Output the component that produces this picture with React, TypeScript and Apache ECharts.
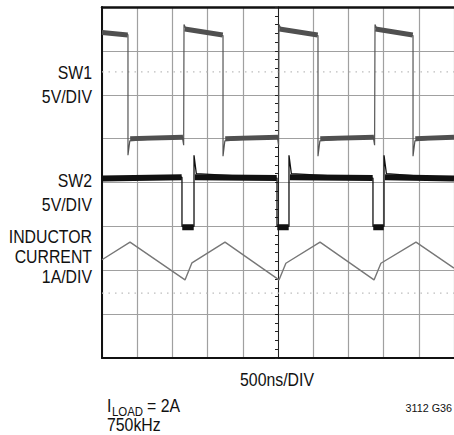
import React, { useEffect, useRef } from "react";
import * as echarts from "echarts";

// time in ns (0..5000, 500ns/div), amplitude in divisions (0..8)
const sw1Trace: [number, number][] = [
  [0, 7.45], [369, 7.37], [369, 4.62], [395, 4.95], [1140, 5.05], [1160, 4.85], [1165, 7.6], [1200, 7.47],
  [1719, 7.35], [1719, 4.6], [1745, 4.95], [2490, 5.05], [2508, 4.85], [2514, 7.6], [2550, 7.47],
  [3068, 7.35], [3068, 4.6], [3095, 4.95], [3852, 5.05], [3872, 4.85], [3878, 7.6], [3910, 7.47],
  [4418, 7.35], [4418, 4.6], [4445, 4.95], [5000, 5.05],
];
const sw1Band: ([number, number] | null)[] = [
  [0, 7.42], [365, 7.36], null,
  [1175, 7.5], [1715, 7.36], null,
  [2520, 7.5], [3064, 7.36], null,
  [3884, 7.5], [4414, 7.36], null,
  [400, 5.0], [1150, 5.03], null,
  [1750, 5.0], [2500, 5.03], null,
  [3100, 5.0], [3862, 5.03], null,
  [4450, 5.0], [5000, 5.03],
];
const sw2Trace: [number, number][] = [
  [0, 4.09], [1136, 4.12], [1136, 3.0], [1307, 3.0], [1307, 4.62], [1340, 4.2], [2486, 4.1],
  [2486, 3.0], [2656, 3.0], [2656, 4.62], [2690, 4.2], [3849, 4.1], [3849, 3.0], [4006, 3.0],
  [4006, 4.62], [4040, 4.2], [5000, 4.09],
];
const sw2Band: ([number, number] | null)[] = [
  [0, 4.09], [1132, 4.12], null,
  [1320, 4.12], [2482, 4.1], null,
  [2670, 4.12], [3845, 4.1], null,
  [4020, 4.12], [5000, 4.09], null,
  [1140, 2.98], [1303, 2.98], null,
  [2490, 2.98], [2652, 2.98], null,
  [3853, 2.98], [4002, 2.98],
];
const inductorCurrent: [number, number][] = [
  [0, 2.24], [398, 2.64], [1179, 1.78], [1278, 2.17], [1747, 2.64], [2514, 1.78], [2612, 2.16],
  [3097, 2.64], [3864, 1.78], [3962, 2.16], [4460, 2.64], [5000, 2.05],
];
const dottedLevels = [6.52, 1.48];
const traceLabels = [
  { lines: ["SW1", "5V/DIV"], y: 73 },
  { lines: ["SW2", "5V/DIV"], y: 181 },
  { lines: ["INDUCTOR", "CURRENT", "1A/DIV"], y: 237 },
];
const timeLabel = "500ns/DIV";
const freqLabel = "750kHz";
const figId = "3112 G36";

const FONT = "'Liberation Sans', Arial, sans-serif";
const SX = 0.88;

export default function App() {
  const ref = useRef<HTMLDivElement>(null);
  useEffect(() => {
    if (!ref.current) return;
    const chart = echarts.init(ref.current, null, { renderer: "svg" });
    const graphic: any[] = [];
    const txt = (text: string, x: number, y: number, size: number, align: string, sx = SX) => ({
      type: "text", x, y, scaleX: sx,
      style: { text, textAlign: align, textVerticalAlign: "middle", fontSize: size, fontFamily: FONT, fill: "#111" },
    });
    traceLabels.forEach((t) => {
      t.lines.forEach((line, i) => {
        graphic.push(txt(line, 92, t.y + i * (t.lines.length === 3 ? 20 : 24.5), 18, "right"));
      });
    });
    graphic.push(txt(timeLabel, 277, 380, 18, "center"));
    graphic.push(txt("I", 107, 406, 18, "left"));
    graphic.push(txt("LOAD", 112, 411.5, 13, "left"));
    graphic.push(txt("= 2A", 147, 406, 18, "left"));
    graphic.push(txt(freqLabel, 107, 425, 18, "left"));
    graphic.push(txt(figId, 452, 408, 11, "right", 0.98));

    const hidden = { show: false };
    chart.setOption({
      animation: false,
      grid: { left: 102, right: 0, top: 7, bottom: 77 },
      xAxis: [
        {
          type: "value", min: 0, max: 5000, interval: 500, position: "bottom",
          axisLine: { show: true, onZero: false, lineStyle: { color: "#111", width: 2 } },
          axisTick: hidden, axisLabel: hidden,
          splitLine: { show: true, lineStyle: { color: "#a0a0a0", width: 1.2 } },
        },
        {
          type: "value", min: 0, max: 5000, interval: 500, position: "top",
          axisLine: { show: true, onZero: false, lineStyle: { color: "#111", width: 2.5 } },
          axisTick: hidden, axisLabel: hidden, splitLine: hidden,
        },
      ],
      yAxis: [
        {
          type: "value", min: 0, max: 8, interval: 1, position: "left",
          axisLine: { show: true, onZero: false, lineStyle: { color: "#111", width: 2 } },
          axisTick: hidden, axisLabel: hidden,
          splitLine: { show: true, lineStyle: { color: "#a0a0a0", width: 1.2 } },
        },
        {
          type: "value", min: 0, max: 8, interval: 1, position: "left", offset: -176,
          axisLine: { show: true, onZero: false, lineStyle: { color: "#222", width: 1 } },
          axisTick: { show: true, length: 3, lineStyle: { color: "#222" } },
          minorTick: { show: true, splitNumber: 5, length: 3, lineStyle: { color: "#222" } },
          axisLabel: hidden, splitLine: hidden,
        },
      ],
      series: [
        ...dottedLevels.map((lv) => ({
          type: "line", xAxisIndex: 0, yAxisIndex: 0, symbol: "none", silent: true,
          data: [[0, lv], [5000, lv]],
          lineStyle: { color: "#bdbdbd", width: 1.2, type: [1.5, 5] },
        })),
        {
          type: "line", name: "SW1", symbol: "none", data: sw1Trace, connectNulls: false,
          lineStyle: { color: "#555", width: 1.2 },
        },
        {
          type: "line", name: "SW1 band", symbol: "none", data: sw1Band, connectNulls: false,
          lineStyle: { color: "#505050", width: 5 },
        },
        {
          type: "line", name: "SW2", symbol: "none", data: sw2Trace,
          lineStyle: { color: "#111", width: 1.3 },
        },
        {
          type: "line", name: "SW2 band", symbol: "none", data: sw2Band, connectNulls: false,
          lineStyle: { color: "#111", width: 6 },
        },
        {
          type: "line", name: "Inductor current", symbol: "none", data: inductorCurrent,
          lineStyle: { color: "#777", width: 1.4 },
        },
      ],
      graphic,
    });
    return () => chart.dispose();
  }, []);
  return (
    <div
      ref={ref}
      style={{ position: "fixed", left: 0, top: 0, width: 454, height: 435, background: "#fff" }}
    />
  );
}
